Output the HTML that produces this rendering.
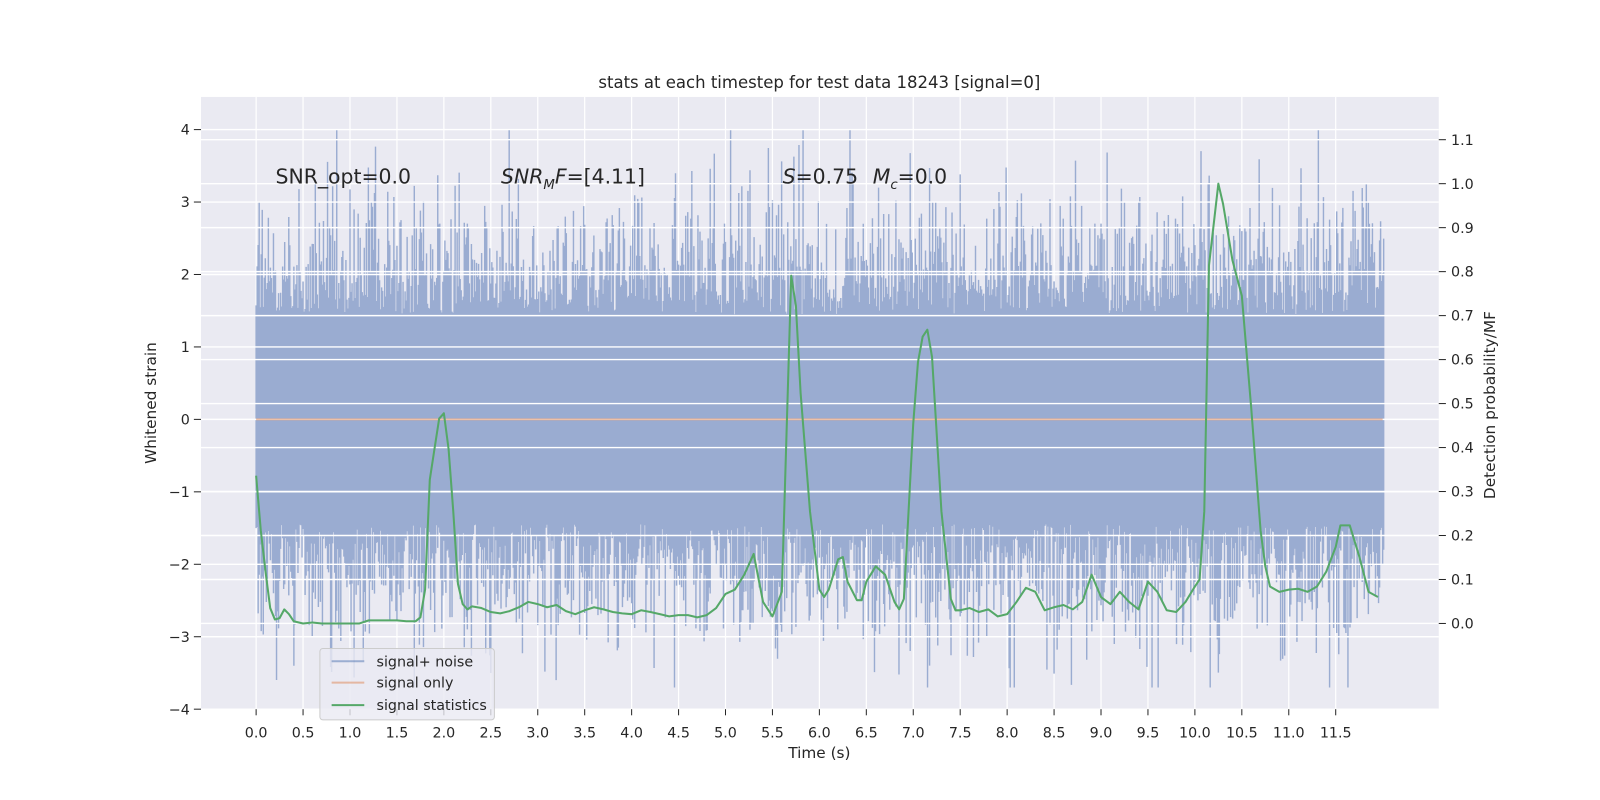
<!DOCTYPE html>
<html><head><meta charset="utf-8">
<style>
html,body{margin:0;padding:0;background:#fff;}
svg{display:block;font-family:"DejaVu Sans","Liberation Sans",sans-serif;}
</style></head>
<body>
<svg id="chart" width="1600" height="800" viewBox="0 0 1600 800">
<rect x="0" y="0" width="1600" height="800" fill="#fff"/>
<g transform="scale(1.0204)">
<rect x="197" y="95" width="1213" height="600" fill="#eaeaf2"/>
<g id="vgrid"></g>
<g id="noise"></g>
<g id="hgrid"></g>
<g id="lines"></g>
<g id="axes"></g>
<text x="803" y="86" text-anchor="middle" font-size="16.2" fill="#262626">stats at each timestep for test data 18243 [signal=0]</text>
<text x="270" y="180" font-size="20" fill="#262626">SNR_opt=0.0</text>
<text x="491" y="180" font-size="20" fill="#262626"><tspan font-style="italic">SNR</tspan><tspan font-style="italic" font-size="13" dy="5">M</tspan><tspan font-style="italic" dy="-5">F</tspan>=[4.11]</text>
<text x="767" y="180" font-size="20" fill="#262626"><tspan font-style="italic">S</tspan>=0.75   <tspan font-style="italic" dx="8">M</tspan><tspan font-style="italic" font-size="13" dy="5">c</tspan><tspan dy="-5">=0.0</tspan></text>
<text x="803" y="743" text-anchor="middle" font-size="15" fill="#262626">Time (s)</text>
<text transform="translate(153,395) rotate(-90)" text-anchor="middle" font-size="15" fill="#262626">Whitened strain</text>
<text transform="translate(1465,397) rotate(-90)" text-anchor="middle" font-size="15" fill="#262626">Detection probability/MF</text>
<g>
<rect x="313.5" y="635.5" width="171" height="70" rx="3" fill="#eaeaf2" fill-opacity="0.8" stroke="#cccccc"/>
<line x1="325" y1="648" x2="357" y2="648" stroke="#4c72b0" stroke-opacity="0.5" stroke-width="2"/>
<text x="369" y="653" font-size="14" fill="#262626">signal+ noise</text>
<line x1="325" y1="669" x2="357" y2="669" stroke="#dd8452" stroke-opacity="0.5" stroke-width="2"/>
<text x="369" y="674" font-size="14" fill="#262626">signal only</text>
<line x1="325" y1="691" x2="357" y2="691" stroke="#55a868" stroke-width="2"/>
<text x="369" y="696" font-size="14" fill="#262626">signal statistics</text>
</g>
</g>
</svg>
<script>
const statTimes = [0,0.05,0.1,0.15,0.2,0.25,0.3,0.35,0.4,0.5,0.6,0.7,0.8,0.9,1.0,1.1,1.2,1.3,1.4,1.5,1.6,1.7,1.75,1.8,1.85,1.9,1.95,2.0,2.05,2.1,2.15,2.2,2.25,2.3,2.4,2.5,2.6,2.7,2.8,2.9,3.0,3.1,3.2,3.3,3.4,3.5,3.6,3.7,3.8,3.9,4.0,4.1,4.2,4.3,4.4,4.5,4.6,4.7,4.8,4.9,5.0,5.1,5.2,5.3,5.4,5.5,5.6,5.7,5.75,5.8,5.9,6.0,6.05,6.1,6.2,6.25,6.3,6.4,6.45,6.5,6.6,6.7,6.8,6.85,6.9,7.0,7.05,7.1,7.15,7.2,7.3,7.4,7.45,7.5,7.6,7.7,7.8,7.9,8.0,8.1,8.2,8.3,8.4,8.5,8.6,8.7,8.8,8.9,9.0,9.1,9.2,9.3,9.4,9.5,9.6,9.7,9.8,9.9,10.0,10.05,10.1,10.15,10.25,10.3,10.4,10.5,10.6,10.7,10.75,10.8,10.9,11.0,11.1,11.2,11.3,11.4,11.5,11.55,11.65,11.75,11.85,11.95];
const statValues = [0.336,0.211,0.118,0.035,0.009,0.012,0.032,0.021,0.005,0,0.002,0,0,0,0,0,0.007,0.007,0.007,0.007,0.005,0.005,0.014,0.077,0.327,0.397,0.466,0.478,0.397,0.255,0.090,0.044,0.032,0.039,0.035,0.026,0.023,0.028,0.037,0.049,0.044,0.037,0.042,0.028,0.021,0.030,0.037,0.032,0.026,0.023,0.021,0.030,0.026,0.021,0.016,0.019,0.019,0.014,0.019,0.035,0.067,0.077,0.111,0.158,0.049,0.016,0.072,0.791,0.722,0.524,0.255,0.077,0.060,0.077,0.146,0.151,0.095,0.053,0.053,0.095,0.130,0.111,0.049,0.032,0.056,0.455,0.594,0.652,0.668,0.606,0.255,0.056,0.030,0.030,0.035,0.026,0.032,0.016,0.021,0.049,0.081,0.072,0.030,0.037,0.042,0.032,0.049,0.111,0.060,0.044,0.072,0.049,0.032,0.095,0.072,0.030,0.026,0.049,0.084,0.100,0.255,0.814,1.0,0.954,0.826,0.745,0.490,0.211,0.130,0.084,0.072,0.077,0.079,0.072,0.084,0.118,0.174,0.223,0.223,0.153,0.072,0.060];
const xTickLabels = ["0.0","0.5","1.0","1.5","2.0","2.5","3.0","3.5","4.0","4.5","5.0","5.5","6.0","6.5","7.0","7.5","8.0","8.5","9.0","9.5","10.0","10.5","11.0","11.5"];
const yTickLabels = ["−4","−3","−2","−1","0","1","2","3","4"];
const y2TickLabels = ["0.0","0.1","0.2","0.3","0.4","0.5","0.6","0.7","0.8","0.9","1.0","1.1"];
const signalOnly = [0, 0];

const NS='http://www.w3.org/2000/svg';
const xS = t => 251 + t*92;
const yS = v => 411 - v*71;
const y2S = p => 611 - p*431;
function mk(tag, attrs, parent){const e=document.createElementNS(NS,tag);for(const k in attrs)e.setAttribute(k,attrs[k]);parent.appendChild(e);return e;}
const vgrid=document.getElementById('vgrid'), hgrid=document.getElementById('hgrid'), noise=document.getElementById('noise'), lines=document.getElementById('lines'), axes=document.getElementById('axes');

xTickLabels.forEach(l=>{
  const x=xS(parseFloat(l));
  const g=mk('line',{x1:x,x2:x,y1:95,y2:695,stroke:'#fff','stroke-width':1.2},vgrid);
  
  
  mk('line',{x1:x,x2:x,y1:695,y2:701,stroke:'#262626','stroke-width':1},axes);
  const t=mk('text',{x:x,y:723,'text-anchor':'middle','font-size':14,fill:'#262626'},axes);
  t.textContent=l;
  
  
});

// noise texture (seeded, deterministic)
let seed=18243;
function rnd(){seed=(seed*1103515245+12345)%2147483648;return seed/2147483648;}
function gauss(){let u=rnd()||1e-9,v=rnd();return Math.sqrt(-2*Math.log(u))*Math.cos(2*Math.PI*v);}
let d='';
for(let x=251;x<=1356;x+=1){
  let top=1.45+Math.abs(gauss())*0.7, bot=-1.45-Math.abs(gauss())*0.7;
  if(rnd()<0.2) top+=Math.abs(gauss())*0.7;
  if(rnd()<0.2) bot-=Math.abs(gauss())*0.7;
  top=Math.min(top,4.0); bot=Math.max(bot,-3.7);
  d+='M'+x+' '+yS(top).toFixed(1)+'V'+yS(bot).toFixed(1);
}
const np=mk('path',{d:d,stroke:'#9aacd1','stroke-width':1.4,fill:'none'},noise);



yTickLabels.forEach((l,i)=>{
  const v=i-4, y=yS(v);
  const g=mk('line',{x1:197,x2:1410,y1:y,y2:y,stroke:'#fff','stroke-width':1.4},hgrid);
  
  
  mk('line',{x1:190,x2:197,y1:y,y2:y,stroke:'#262626','stroke-width':1},axes);
  const t=mk('text',{x:186,y:y+5,'text-anchor':'end','font-size':14,fill:'#262626'},axes);
  t.textContent=l;
  
  
});
y2TickLabels.forEach(l=>{
  const y=y2S(parseFloat(l));
  const g=mk('line',{x1:197,x2:1410,y1:y,y2:y,stroke:'#fff','stroke-width':1.4},hgrid);
  
  
  mk('line',{x1:1410,x2:1417,y1:y,y2:y,stroke:'#262626','stroke-width':1},axes);
  const t=mk('text',{x:1422,y:y+5,'font-size':14,fill:'#262626'},axes);
  t.textContent=l;
  
  
});

const so=mk('line',{x1:xS(0),x2:xS(12),y1:yS(signalOnly[0]),y2:yS(signalOnly[1]),stroke:'#dd8452','stroke-opacity':0.5,'stroke-width':2},lines);



const pts=statTimes.map((t,i)=>xS(t).toFixed(1)+','+y2S(statValues[i]).toFixed(1)).join(' ');
const gl=mk('polyline',{points:pts,fill:'none',stroke:'#55a868','stroke-width':2,'stroke-linejoin':'round'},lines);


</script>
</body></html>
